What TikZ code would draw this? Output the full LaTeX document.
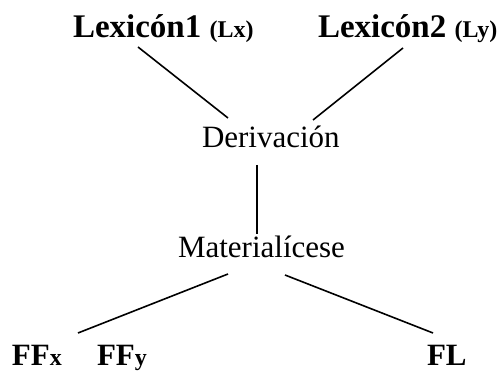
\documentclass[tikz,border=0pt]{standalone}
\usepackage{fontspec}
\setmainfont{Liberation Serif}
\begin{document}
\begin{tikzpicture}[x=1pt,y=-1pt,
  lbl/.style={inner sep=0pt,outer sep=0pt,anchor=base west},
  big/.style={font=\fontsize{33}{36}\selectfont\bfseries},
  reg/.style={font=\fontsize{31}{34}\selectfont},
  bot/.style={font=\fontsize{31}{34}\selectfont\bfseries},
  edge/.style={line width=1.6pt}]
\useasboundingbox (0,0) rectangle (499,371);
\newcommand{\smallb}[1]{{\fontsize{24}{26}\selectfont\bfseries #1}}
\node[lbl,big] (lex1) at (73,38) {Lexicón1 \smallb{(Lx)}};
\node[lbl,big] (lex2) at (318,38) {Lexicón2 \smallb{(Ly)}};
\node[lbl,reg] (der) at (202,148) {Derivación};
\node[lbl,reg] (mat) at (178,258) {Materialícese};
\node[lbl,bot] (ffx) at (12,366) {FF\smallb{x}};
\node[lbl,bot] (ffy) at (97,366) {FF\smallb{y}};
\node[lbl,bot] (fl) at (427,366) {FL};
\coordinate (l1a) at (138,47);
\coordinate (l1b) at (228,118);
\coordinate (l2a) at (403,48);
\coordinate (l2b) at (313,120);
\coordinate (dv) at (257,165);
\coordinate (mv) at (257,234);
\coordinate (ml) at (228,274);
\coordinate (ffe) at (78,333);
\coordinate (mr) at (285,275);
\coordinate (fle) at (433,333);
\draw[edge] (l1a) -- (l1b);
\draw[edge] (l2a) -- (l2b);
\draw[edge] (dv) -- (mv);
\draw[edge] (ml) -- (ffe);
\draw[edge] (mr) -- (fle);
\end{tikzpicture}
\end{document}
